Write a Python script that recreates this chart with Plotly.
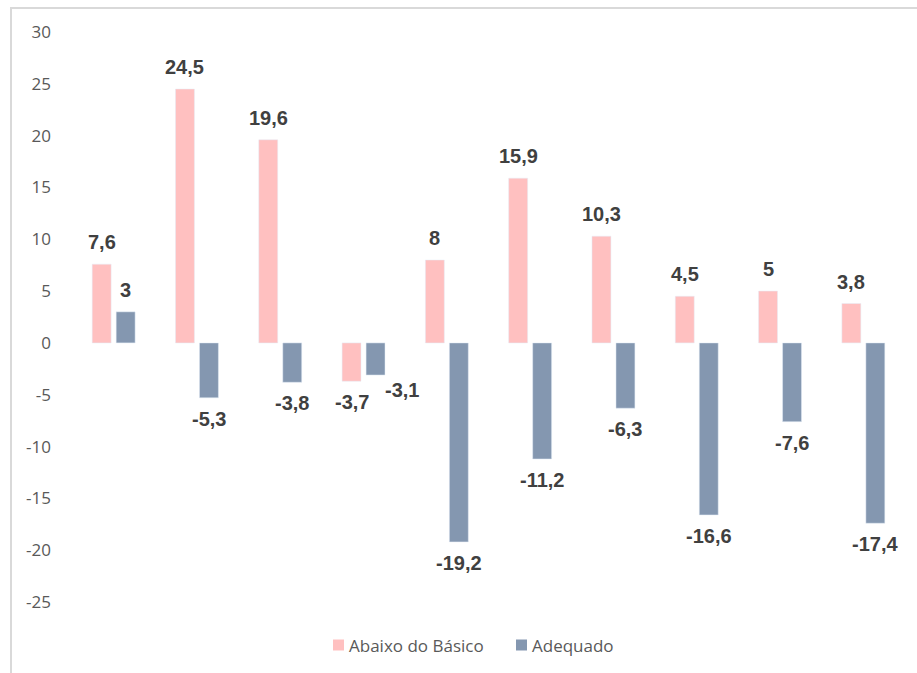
import plotly.graph_objects as go

# Values per group (10 groups, no category labels shown)
groups = list(range(10))
abaixo = [7.6, 24.5, 19.6, -3.7, 8, 15.9, 10.3, 4.5, 5, 3.8]
adequado = [3, -5.3, -3.8, -3.1, -19.2, -11.2, -6.3, -16.6, -7.6, -17.4]
series_names = ["Abaixo do Básico", "Adequado"]
y_ticks = list(range(-25, 31, 5))
y_tick_text = [str(t) for t in y_ticks]

PINK = "#FFC0C0"
SLATE = "#8497B0"
W, H = 917, 673
ML, MR, MT, MB = 72, 12, 32, 71
BARGAP = 0.424
BARGROUPGAP = 0.21
TEXT_GREY = "#595959"

fig = go.Figure()
fig.add_bar(x=groups, y=abaixo, name=series_names[0], marker_color=PINK)
fig.add_bar(x=groups, y=adequado, name=series_names[1], marker_color=SLATE)


def fmt(v):
    return f"{v:g}".replace(".", ",")


pw = W - ML - MR
ph = H - MT - MB


def px_x(x):
    return (x - ML) / pw


def px_y(y):
    return (H - MB - y) / ph


# data-label placement: centred on each bar, beyond its end
slot = (1 - BARGAP) / 2
offsets = [-slot / 2, slot / 2]
# hand-placed label (moved aside to avoid crowding the neighbouring label)
nudges = {(1, 3): (26, 6)}
annotations = []
for s, vals in enumerate([abaixo, adequado]):
    for g, v in zip(groups, vals):
        dx, dy = nudges.get((s, g), (0, 0))
        annotations.append(dict(
            x=g + offsets[s], y=v, xref="x", yref="y",
            text=f"<b>{fmt(v)}</b>", showarrow=False,
            xanchor="center", yanchor="middle",
            xshift=dx, yshift=(22 if v >= 0 else -21) + dy,
            font=dict(family="Liberation Sans", size=20, color="#404040"),
        ))

# legend drawn as square swatches followed by their names
shapes = []
legend_items = [(333, PINK, series_names[0]), (516, SLATE, series_names[1])]
LEG_Y = 645
for x0, color, name in legend_items:
    shapes.append(dict(
        type="rect", xref="paper", yref="paper",
        x0=px_x(x0), x1=px_x(x0 + 11),
        y0=px_y(LEG_Y + 5.5), y1=px_y(LEG_Y - 5.5),
        line=dict(width=0), fillcolor=color,
    ))
    annotations.append(dict(
        x=px_x(x0 + 14), y=px_y(LEG_Y), xref="paper", yref="paper",
        text=name, showarrow=False, xanchor="left", yanchor="middle",
        font=dict(family="Open Sans", size=17, color=TEXT_GREY),
    ))

# chart frame (light grey border)
shapes.append(dict(
    type="rect", xref="paper", yref="paper",
    x0=px_x(11), x1=px_x(W + 20),
    y0=px_y(H + 20), y1=px_y(8),
    line=dict(color="#D9D9D9", width=2), fillcolor="rgba(0,0,0,0)",
    layer="below",
))

fig.update_layout(
    width=W, height=H,
    margin=dict(l=ML, r=MR, t=MT, b=MB),
    paper_bgcolor="white", plot_bgcolor="white",
    barmode="group", bargap=BARGAP, bargroupgap=BARGROUPGAP,
    showlegend=False,
    annotations=annotations,
    shapes=shapes,
)
fig.update_xaxes(range=[-0.5, 9.5], showticklabels=False, showgrid=False,
                 zeroline=False, showline=False, ticks="")
fig.update_yaxes(range=[-25, 30], tickvals=y_ticks, ticktext=y_tick_text,
                 showgrid=False, zeroline=False, showline=False, ticks="",
                 ticklabelstandoff=20,
                 tickfont=dict(family="Open Sans", size=17, color=TEXT_GREY))

fig.write_html("out.html")
